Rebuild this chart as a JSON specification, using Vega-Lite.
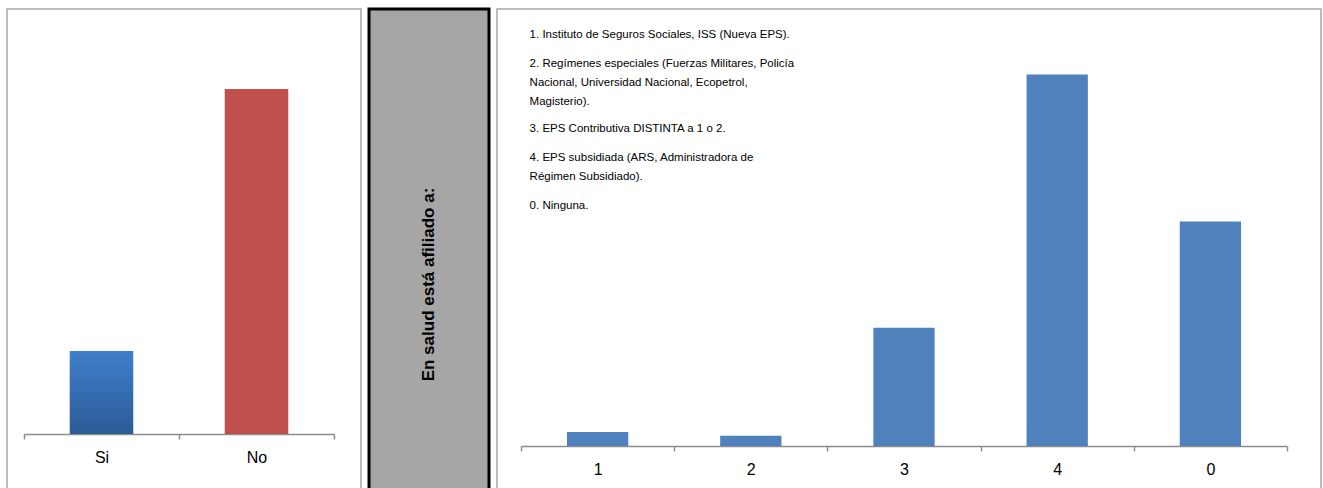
{
  "$schema": "https://vega.github.io/schema/vega-lite/v6.json",
  "padding": {"left": 6, "top": 7, "right": 0, "bottom": 0},
  "spacing": 5,
  "background": "white",
  "config": {"font": "Liberation Sans", "axis": {"grid": false}},
  "hconcat": [
    {
      "width": 354,
      "height": 481,
      "view": {"stroke": "#a6a6a6", "strokeWidth": 1.5},
      "data": {"values": [{"resp": "Si", "pct": 19.4}, {"resp": "No", "pct": 80.6}]},
      "encoding": {
        "x": {
          "field": "resp", "type": "nominal", "sort": ["Si", "No"],
          "scale": {"domain": ["Si", "No"], "range": [17, 327], "paddingInner": 0, "paddingOuter": 0},
          "axis": {"title": null, "orient": "bottom", "offset": -56, "domainColor": "#8c8c8c", "domainWidth": 1.5, "tickColor": "#8c8c8c", "tickWidth": 1.5, "tickSize": 5, "tickBand": "extent", "labelAngle": 0, "labelFontSize": 16, "labelColor": "#000", "labelPadding": 10}
        },
        "y": {"field": "pct", "type": "quantitative", "scale": {"domain": [0, 100], "range": [425, -3], "nice": false}, "axis": null}
      },
      "layer": [
        {
          "transform": [{"filter": "datum.resp === 'Si'"}],
          "mark": {"type": "bar", "width": {"band": 0.41}, "color": {"gradient": "linear", "x1": 0, "y1": 0, "x2": 0, "y2": 1, "stops": [{"offset": 0, "color": "#3e7ecc"}, {"offset": 1, "color": "#2c5b96"}]}}
        },
        {
          "transform": [{"filter": "datum.resp === 'No'"}],
          "mark": {"type": "bar", "width": {"band": 0.41}, "color": "#c0504d"}
        }
      ]
    },
    {
      "width": 120,
      "height": 481,
      "view": {"fill": "#a6a6a6", "stroke": "#000000", "strokeWidth": 3},
      "data": {"values": [{"t": "En salud está afiliado a:"}]},
      "mark": {"type": "text", "angle": 270, "fontSize": 17, "fontWeight": "bold", "align": "center", "baseline": "middle", "color": "#000", "dx": -35},
      "encoding": {"text": {"field": "t"}}
    },
    {
      "width": 824,
      "height": 481,
      "view": {"stroke": "#a6a6a6", "strokeWidth": 1.5},
      "layer": [
        {
          "data": {"values": [
            {"cat": "1", "pct": 1.9},
            {"cat": "2", "pct": 1.4},
            {"cat": "3", "pct": 16.0},
            {"cat": "4", "pct": 50.3},
            {"cat": "0", "pct": 30.4}
          ]},
          "mark": {"type": "bar", "width": {"band": 0.4}, "color": "#4f81bd"},
          "encoding": {
            "x": {
              "field": "cat", "type": "nominal", "sort": ["1", "2", "3", "4", "0"],
              "scale": {"domain": ["1", "2", "3", "4", "0"], "range": [24, 790], "paddingInner": 0, "paddingOuter": 0},
              "axis": {"title": null, "orient": "bottom", "offset": -44, "domainColor": "#8c8c8c", "domainWidth": 1.5, "tickColor": "#8c8c8c", "tickWidth": 1.5, "tickSize": 5, "tickBand": "extent", "labelAngle": 0, "labelFontSize": 16, "labelColor": "#000", "labelPadding": 10}
            },
            "y": {"field": "pct", "type": "quantitative", "scale": {"domain": [0, 60], "range": [437, -6], "nice": false}, "axis": null}
          }
        },
        {
          "data": {"values": [{"txt": "1. Instituto de Seguros Sociales, ISS (Nueva EPS)."}]},
          "mark": {"type": "text", "align": "left", "baseline": "top", "fontSize": 11.5, "lineBreak": "\n", "lineHeight": 19, "color": "#000", "dx": -68},
          "encoding": {"x": {"datum": "1", "type": "nominal"}, "y": {"datum": 56.5, "type": "quantitative"}, "text": {"field": "txt"}}
        },
        {
          "data": {"values": [{"txt": "2. Regímenes especiales (Fuerzas Militares, Policía\nNacional, Universidad Nacional, Ecopetrol,\nMagisterio)."}]},
          "mark": {"type": "text", "align": "left", "baseline": "top", "fontSize": 11.5, "lineBreak": "\n", "lineHeight": 19, "color": "#000", "dx": -68},
          "encoding": {"x": {"datum": "1", "type": "nominal"}, "y": {"datum": 52.57, "type": "quantitative"}, "text": {"field": "txt"}}
        },
        {
          "data": {"values": [{"txt": "3. EPS Contributiva DISTINTA a 1 o 2."}]},
          "mark": {"type": "text", "align": "left", "baseline": "top", "fontSize": 11.5, "lineBreak": "\n", "lineHeight": 19, "color": "#000", "dx": -68},
          "encoding": {"x": {"datum": "1", "type": "nominal"}, "y": {"datum": 43.7, "type": "quantitative"}, "text": {"field": "txt"}}
        },
        {
          "data": {"values": [{"txt": "4. EPS subsidiada (ARS, Administradora de\nRégimen Subsidiado)."}]},
          "mark": {"type": "text", "align": "left", "baseline": "top", "fontSize": 11.5, "lineBreak": "\n", "lineHeight": 19, "color": "#000", "dx": -68},
          "encoding": {"x": {"datum": "1", "type": "nominal"}, "y": {"datum": 39.77, "type": "quantitative"}, "text": {"field": "txt"}}
        },
        {
          "data": {"values": [{"txt": "0. Ninguna."}]},
          "mark": {"type": "text", "align": "left", "baseline": "top", "fontSize": 11.5, "lineBreak": "\n", "lineHeight": 19, "color": "#000", "dx": -68},
          "encoding": {"x": {"datum": "1", "type": "nominal"}, "y": {"datum": 33.27, "type": "quantitative"}, "text": {"field": "txt"}}
        }
      ]
    }
  ]
}
